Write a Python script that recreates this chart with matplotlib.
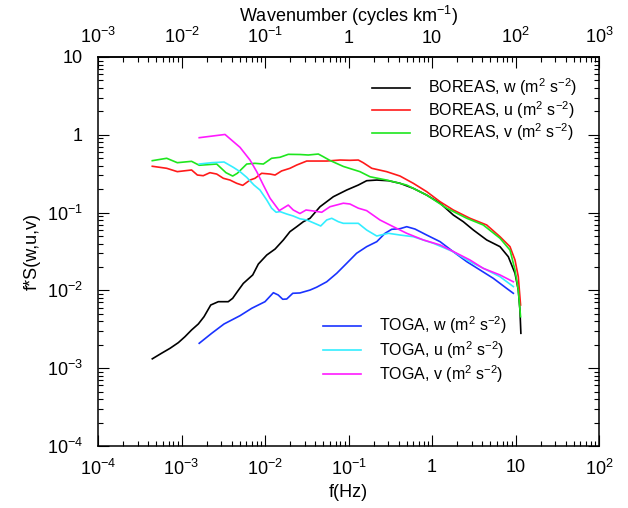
import matplotlib
matplotlib.use('Agg')
import matplotlib.pyplot as plt
import numpy as np
from matplotlib.ticker import FixedLocator, LogLocator, FuncFormatter, NullFormatter

plt.rcParams['font.family'] = ['Liberation Sans', 'DejaVu Sans']
plt.rcParams['mathtext.fontset'] = 'custom'
plt.rcParams['mathtext.rm'] = 'Liberation Sans'
plt.rcParams['mathtext.it'] = 'Liberation Sans:italic'
plt.rcParams['mathtext.bf'] = 'Liberation Sans:bold'

# BOREAS w
f_bw = [4.47e-4, 5.79e-4, 7.28e-4, 9.16e-4, 1.10e-3, 1.32e-3, 1.59e-3, 1.86e-3, 2.24e-3, 2.76e-3,
        3.63e-3, 4.10e-3, 4.66e-3, 5.50e-3, 7.13e-3, 8.32e-3, 0.0105, 0.0132, 0.0166, 0.0199,
        0.0240, 0.0288, 0.0346, 0.0456, 0.0658, 0.0951, 0.131, 0.165, 0.218, 0.300,
        0.414, 0.597, 0.863, 1.25, 1.80, 2.37, 3.13, 4.52, 6.52, 8.20,
        9.86, 10.8, 11.3, 11.6]
s_bw = [1.32e-3, 1.56e-3, 1.80e-3, 2.13e-3, 2.54e-3, 3.10e-3, 3.70e-3, 4.59e-3, 6.49e-3, 7.16e-3,
        7.16e-3, 7.91e-3, 9.62e-3, 0.0123, 0.0158, 0.0218, 0.0285, 0.0340, 0.0445, 0.0569,
        0.0659, 0.0764, 0.0845, 0.119, 0.160, 0.195, 0.226, 0.257, 0.262, 0.257,
        0.238, 0.205, 0.168, 0.132, 0.0931, 0.0764, 0.0597, 0.0445, 0.0365, 0.0271,
        0.0166, 0.0101, 5.60e-3, 2.81e-3]

# BOREAS u
f_bu = [4.47e-4, 6.65e-4, 8.91e-4, 1.32e-3, 1.55e-3, 1.82e-3, 2.19e-3, 2.64e-3, 3.17e-3, 3.81e-3,
        4.58e-3, 5.41e-3, 6.61e-3, 7.59e-3, 9.12e-3, 0.0115, 0.0132, 0.0158, 0.0199, 0.0240,
        0.0316, 0.0416, 0.0548, 0.0791, 0.104, 0.131, 0.150, 0.190, 0.286, 0.414,
        0.597, 0.863, 1.25, 1.80, 2.85, 4.52, 6.52, 8.59, 9.86, 10.8, 11.5]
s_bu = [0.394, 0.371, 0.336, 0.353, 0.304, 0.298, 0.326, 0.313, 0.276, 0.262,
        0.238, 0.224, 0.262, 0.276, 0.320, 0.313, 0.304, 0.343, 0.371, 0.409,
        0.460, 0.460, 0.460, 0.474, 0.470, 0.474, 0.438, 0.371, 0.336, 0.295,
        0.238, 0.186, 0.138, 0.108, 0.0845, 0.0693, 0.0490, 0.0365, 0.0246, 0.0150, 6.49e-3]

# BOREAS v
f_bv = [4.47e-4, 6.65e-4, 8.91e-4, 1.32e-3, 1.63e-3, 2.64e-3, 3.41e-3, 4.10e-3, 4.66e-3, 6.04e-3,
        7.59e-3, 9.55e-3, 0.0120, 0.0151, 0.0190, 0.0262, 0.0330, 0.0435, 0.0499, 0.0600,
        0.0867, 0.137, 0.181, 0.286, 0.498, 0.863, 1.50, 2.61, 4.11, 6.52,
        8.59, 9.86, 10.8, 11.5]
s_bv = [0.465, 0.499, 0.438, 0.456, 0.406, 0.421, 0.326, 0.295, 0.320, 0.421,
        0.430, 0.421, 0.499, 0.514, 0.561, 0.558, 0.550, 0.566, 0.523, 0.468,
        0.392, 0.336, 0.289, 0.262, 0.226, 0.168, 0.114, 0.0845, 0.0693, 0.0468,
        0.0330, 0.0183, 0.0101, 4.59e-3]

# TOGA w
f_tw = [1.63e-3, 2.30e-3, 3.23e-3, 5.02e-3, 6.94e-3, 0.0100, 0.0126, 0.0144, 0.0163, 0.0182,
        0.0215, 0.0262, 0.0346, 0.0416, 0.0548, 0.0723, 0.0951, 0.125, 0.165, 0.218,
        0.274, 0.329, 0.414, 0.498, 0.625, 0.863, 1.25, 1.80, 2.61, 3.76,
        5.42, 7.85, 9.42]
s_tw = [2.09e-3, 2.81e-3, 3.70e-3, 4.73e-3, 5.89e-3, 7.16e-3, 9.34e-3, 8.73e-3, 7.69e-3, 7.75e-3,
        9.18e-3, 9.27e-3, 0.0101, 0.0110, 0.0129, 0.0166, 0.0223, 0.0300, 0.0365, 0.0423,
        0.0542, 0.0610, 0.0621, 0.0659, 0.0615, 0.0515, 0.0423, 0.0314, 0.0234, 0.0183,
        0.0143, 0.0106, 9.18e-3]

# TOGA u
f_tu = [1.63e-3, 2.30e-3, 3.23e-3, 4.17e-3, 5.02e-3, 6.04e-3, 7.38e-3, 8.71e-3, 0.0105, 0.0120,
        0.0136, 0.0151, 0.0182, 0.0218, 0.0262, 0.0316, 0.0378, 0.0465, 0.0548, 0.0630,
        0.0755, 0.0867, 0.131, 0.165, 0.218, 0.300, 0.414, 0.597, 1.04, 1.80,
        2.85, 4.52, 6.52, 9.42]
s_tu = [0.421, 0.438, 0.447, 0.382, 0.336, 0.284, 0.226, 0.195, 0.145, 0.114,
        0.101, 0.103, 0.0959, 0.0904, 0.0832, 0.0804, 0.0741, 0.0673, 0.0804, 0.0845,
        0.0764, 0.0728, 0.0728, 0.0597, 0.0500, 0.0542, 0.0515, 0.0490, 0.0403, 0.0314,
        0.0234, 0.0183, 0.0150, 0.0112]

# TOGA v
f_tv = [1.63e-3, 3.32e-3, 5.02e-3, 6.61e-3, 7.96e-3, 9.55e-3, 0.0115, 0.0148, 0.0190, 0.0218,
        0.0262, 0.0310, 0.0378, 0.0478, 0.0600, 0.0867, 0.104, 0.131, 0.165, 0.238,
        0.344, 0.498, 0.787, 1.25, 1.98, 2.85, 4.11, 6.52, 9.42]
s_tv = [0.918, 1.01, 0.690, 0.474, 0.336, 0.226, 0.153, 0.106, 0.125, 0.108,
        0.0973, 0.108, 0.105, 0.101, 0.119, 0.132, 0.129, 0.114, 0.106, 0.0804,
        0.0659, 0.0542, 0.0445, 0.0384, 0.0300, 0.0246, 0.0192, 0.0158, 0.0129]


def pow_label(v, pos):
    e = int(round(np.log10(v)))
    if e == 0:
        return '1'
    if e == 1:
        return '10'
    return '$10^{%d}$' % e


fs = 13
fig = plt.figure(figsize=(6.28, 5.08), dpi=100)
ax = fig.add_axes([98 / 628, 62 / 508, 501 / 628, 389 / 508])

lw = 1.2
l1, = ax.plot(f_bw, s_bw, color='black', lw=lw)
l2, = ax.plot(f_bu, s_bu, color='#ff1a1a', lw=lw)
l3, = ax.plot(f_bv, s_bv, color='#1ee61e', lw=lw)
l4, = ax.plot(f_tw, s_tw, color='#1a33ff', lw=lw)
l5, = ax.plot(f_tu, s_tu, color='#33eeff', lw=lw)
l6, = ax.plot(f_tv, s_tv, color='#ff1aff', lw=lw)

ax.set_xscale('log')
ax.set_yscale('log')
ax.set_xlim(1e-4, 1e2)
ax.set_ylim(1e-4, 10)

ax.xaxis.set_major_locator(FixedLocator([10.0 ** e for e in range(-4, 3)]))
ax.yaxis.set_major_locator(FixedLocator([10.0 ** e for e in range(-4, 2)]))
ax.xaxis.set_minor_locator(LogLocator(base=10, subs=np.arange(2, 10), numticks=20))
ax.yaxis.set_minor_locator(LogLocator(base=10, subs=np.arange(2, 10), numticks=20))
ax.xaxis.set_major_formatter(FuncFormatter(pow_label))
ax.yaxis.set_major_formatter(FuncFormatter(pow_label))
ax.xaxis.set_minor_formatter(NullFormatter())
ax.yaxis.set_minor_formatter(NullFormatter())
ax.tick_params(which='both', direction='in', right=True, top=False, labelsize=fs, width=0.8)
ax.tick_params(which='major', length=8)
ax.tick_params(which='minor', length=3.5)
ax.tick_params(axis='x', which='major', pad=9)
ax.tick_params(axis='y', which='major', pad=11)
for sp in ax.spines.values():
    sp.set_linewidth(1.1)

ax.set_xlabel('f(Hz)', fontsize=fs, labelpad=4)
ax.set_ylabel('f*S(w,u,v)', fontsize=fs, labelpad=4)

sec = ax.secondary_xaxis('top', functions=(lambda f: f * 10, lambda k: k / 10))
sec.xaxis.set_major_locator(FixedLocator([10.0 ** e for e in range(-3, 4)]))
sec.xaxis.set_minor_locator(LogLocator(base=10, subs=np.arange(2, 10), numticks=20))
sec.xaxis.set_major_formatter(FuncFormatter(pow_label))
sec.xaxis.set_minor_formatter(NullFormatter())
sec.tick_params(which='both', direction='in', labelsize=fs, width=0.8)
sec.tick_params(which='major', length=8, pad=7)
sec.tick_params(which='minor', length=3.5)
sec.spines['top'].set_linewidth(1.1)
sec.set_xlabel('Wavenumber (cycles km$^{-1}$)', fontsize=fs, labelpad=4)

leg_kw = dict(frameon=False, fontsize=11.5, handlelength=2.4, handletextpad=1.1,
              borderpad=0, borderaxespad=0, loc='upper left')
leg1 = ax.legend([l1, l2, l3],
                 ['BOREAS, w (m$^2$ s$^{-2}$)', 'BOREAS, u (m$^2$ s$^{-2}$)', 'BOREAS, v (m$^2$ s$^{-2}$)'],
                 bbox_to_anchor=(0.547, 0.95), labelspacing=0.05, **leg_kw)
ax.add_artist(leg1)
ax.legend([l4, l5, l6],
          ['TOGA, w (m$^2$ s$^{-2}$)', 'TOGA, u (m$^2$ s$^{-2}$)', 'TOGA, v (m$^2$ s$^{-2}$)'],
          bbox_to_anchor=(0.449, 0.338), labelspacing=0.17, **leg_kw)

fig.savefig('out.png', dpi=100)
